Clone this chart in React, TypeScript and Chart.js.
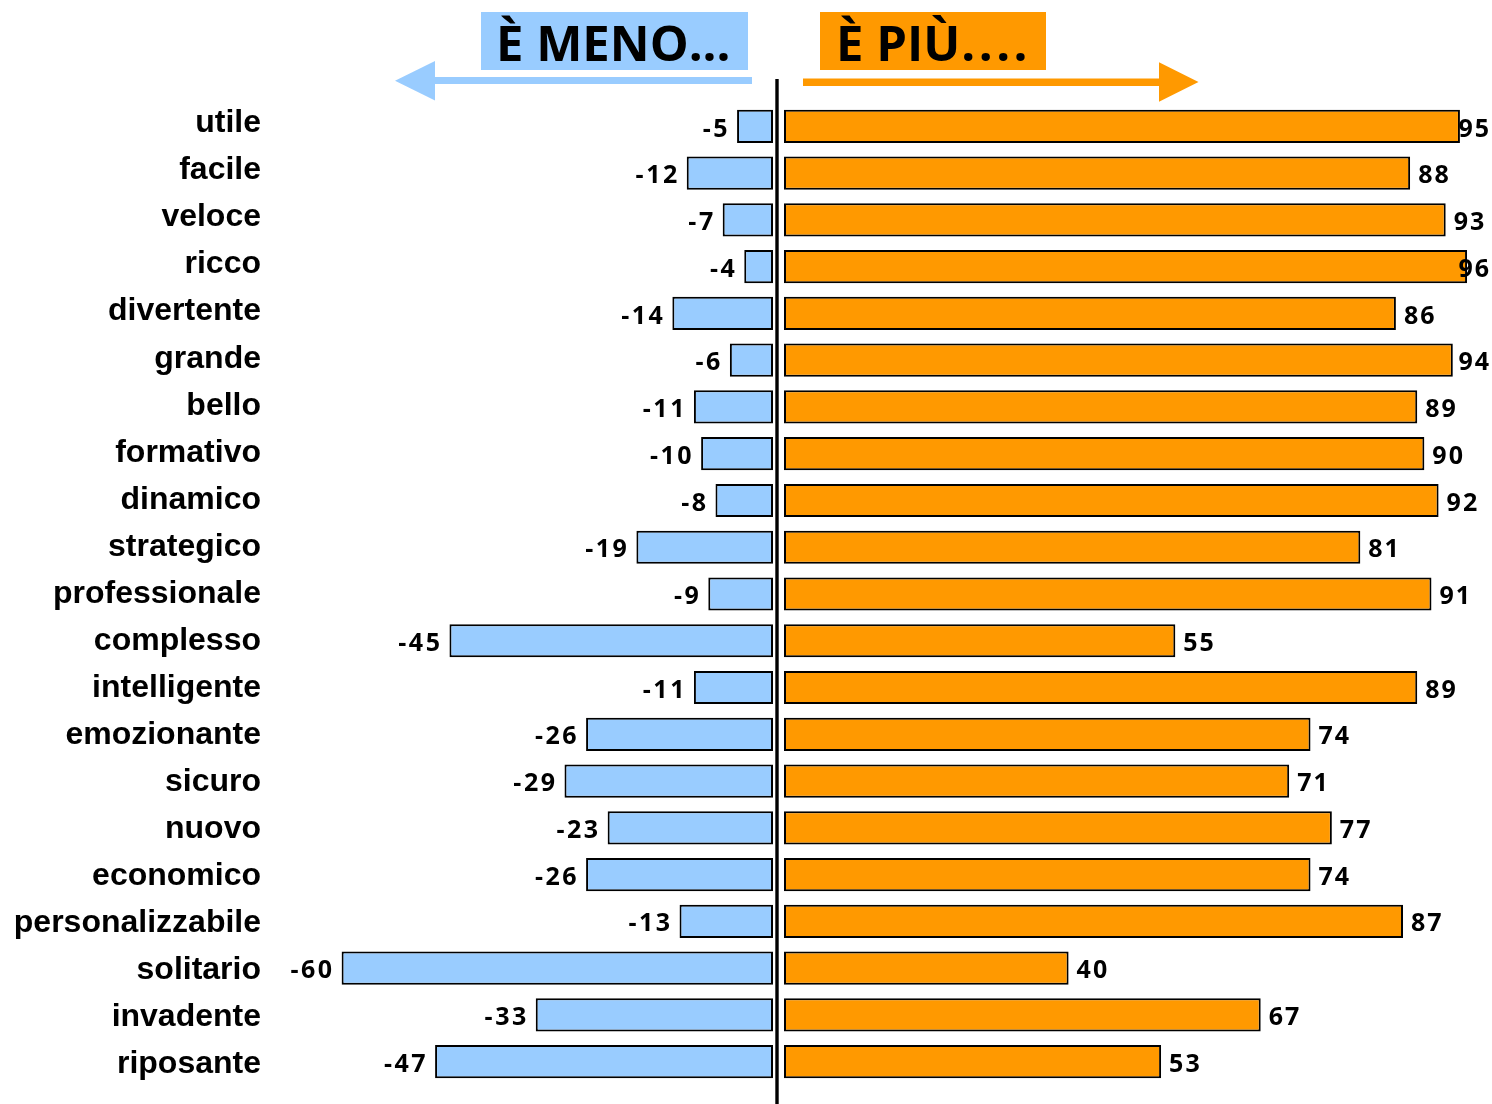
import React, { useEffect, useRef } from "react";
import { Chart, registerables } from "chart.js";

Chart.register(...registerables);

const categories = [
  "utile", "facile", "veloce", "ricco", "divertente", "grande", "bello",
  "formativo", "dinamico", "strategico", "professionale", "complesso",
  "intelligente", "emozionante", "sicuro", "nuovo", "economico",
  "personalizzabile", "solitario", "invadente", "riposante",
];
const menoValues = [-5, -12, -7, -4, -14, -6, -11, -10, -8, -19, -9, -45, -11, -26, -29, -23, -26, -13, -60, -33, -47];
const piuValues = [95, 88, 93, 96, 86, 94, 89, 90, 92, 81, 91, 55, 89, 74, 71, 77, 74, 87, 40, 67, 53];
const titleMeno = "È MENO...";
const titlePiuWord = "È PIÙ";
const titlePiuDots = "....";

const BLUE = "#99CCFF";
const ORANGE = "#FF9900";

const overlayPlugin = {
  id: "overlay",
  beforeDraw(chart: any) {
    // slight progressive drift of category labels, as in the original layout
    const s = chart.scales.y;
    const items = s.getLabelItems(chart.chartArea);
    if (!s._driftApplied) {
      items.forEach((it: any, i: number) => {
        it.options.translation[1] += 0.3 * i;
      });
      s._driftApplied = true;
    }
  },
  afterDatasetsDraw(chart: any) {
    const ctx = chart.ctx as CanvasRenderingContext2D;
    ctx.save();
    // header boxes
    ctx.fillStyle = BLUE;
    ctx.fillRect(481, 12, 267, 58);
    ctx.fillStyle = ORANGE;
    ctx.fillRect(820, 12, 226, 58);
    ctx.fillStyle = "#000";
    ctx.font = "bold 49px 'Open Sans'";
    ctx.textAlign = "left";
    ctx.textBaseline = "alphabetic";
    ctx.fillText(titleMeno, 496, 61);
    ctx.fillText(titlePiuWord, 836, 61);
    const wWord = ctx.measureText(titlePiuWord).width;
    (ctx as any).letterSpacing = "3.5px";
    ctx.fillText(titlePiuDots, 836 + wWord + 1, 61);
    (ctx as any).letterSpacing = "0px";
    // blue arrow (left)
    ctx.fillStyle = BLUE;
    ctx.fillRect(434, 77, 318, 7);
    ctx.beginPath();
    ctx.moveTo(395, 80.7);
    ctx.lineTo(435, 61);
    ctx.lineTo(435, 100.5);
    ctx.closePath();
    ctx.fill();
    // orange arrow (right)
    ctx.fillStyle = ORANGE;
    ctx.fillRect(803, 78.5, 357, 7.5);
    ctx.beginPath();
    ctx.moveTo(1198.5, 82);
    ctx.lineTo(1159, 62.3);
    ctx.lineTo(1159, 101.7);
    ctx.closePath();
    ctx.fill();
    // center line
    ctx.fillStyle = "#000";
    ctx.fillRect(775.3, 79, 3.4, 1030);

    // value labels
    ctx.font = "bold 25px 'Open Sans'";
    ctx.textBaseline = "middle";
    const m0 = chart.getDatasetMeta(0);
    (ctx as any).letterSpacing = "2.5px";
    m0.data.forEach((bar: any, i: number) => {
      const txt = String(menoValues[i]);
      ctx.textAlign = "right";
      ctx.fillText(txt, bar.x - 7, bar.y + 3);
    });
    (ctx as any).letterSpacing = "2px";
    const m1 = chart.getDatasetMeta(1);
    m1.data.forEach((bar: any, i: number) => {
      const txt = String(piuValues[i]);
      const w = ctx.measureText(txt).width;
      ctx.textAlign = "left";
      const x = Math.min(bar.x + 8, 1491 - w);
      ctx.fillText(txt, x, bar.y + 3);
    });
    ctx.restore();
  },
};

export default function App() {
  const ref = useRef<HTMLCanvasElement | null>(null);
  useEffect(() => {
    if (!ref.current) return;
    const chart = new Chart(ref.current, {
      type: "bar",
      data: {
        labels: categories,
        datasets: [
          {
            data: menoValues,
            xAxisID: "xMeno",
            backgroundColor: BLUE,
            borderColor: "#000",
            borderWidth: 2,
            borderSkipped: false,
            grouped: false,
            categoryPercentage: 1,
            barPercentage: 0.71,
          } as any,
          {
            data: piuValues,
            xAxisID: "xPiu",
            backgroundColor: ORANGE,
            borderColor: "#000",
            borderWidth: 2,
            borderSkipped: false,
            grouped: false,
            categoryPercentage: 1,
            barPercentage: 0.71,
          } as any,
        ],
      },
      options: {
        animation: false,
        responsive: false,
        devicePixelRatio: 1,
        indexAxis: "y",
        layout: { padding: { top: 103, bottom: 19, left: 0, right: 12 } },
        plugins: { legend: { display: false }, tooltip: { enabled: false } },
        scales: {
          y: {
            type: "category",
            position: "left",
            grid: { display: false, drawTicks: false },
            border: { display: false },
            ticks: {
              color: "#000",
              font: { family: "'Liberation Sans'", weight: "bold", size: 32 },
              padding: 9,
              labelOffset: -3,
              autoSkip: false,
            },
            afterFit: (scale: any) => {
              scale.width = 270;
              scale.paddingTop = 0;
              scale.paddingBottom = 0;
            },
          },
          xMeno: {
            type: "linear",
            display: false,
            min: -69.96,
            max: 98.33,
          },
          xPiu: {
            type: "linear",
            display: false,
            min: -72.24,
            max: 97.82,
          },
        },
      } as any,
      plugins: [overlayPlugin],
    });
    return () => chart.destroy();
  }, []);
  return (
    <div style={{ position: "absolute", left: 0, top: 0, width: 1492, height: 1104, background: "#fff" }}>
      <canvas ref={ref} width={1492} height={1104} style={{ display: "block" }} />
    </div>
  );
}
